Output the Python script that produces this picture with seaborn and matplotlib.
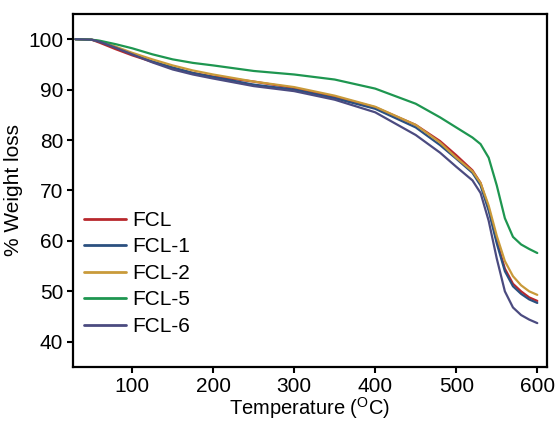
import pandas as pd
import seaborn as sns
import matplotlib.pyplot as plt

# temperatures (deg C) shared by all TGA curves
temperature = [30, 50, 60, 80, 100, 125, 150, 175, 200, 250, 300, 350, 400, 450,
               480, 500, 520, 530, 540, 550, 560, 570, 580, 590, 600]

fcl = [100, 99.9, 99.3, 98.0, 96.8, 95.5, 94.3, 93.3, 92.6, 91.6, 90.3, 88.6, 86.5, 83.0,
       79.8, 77.0, 74.0, 71.5, 66.5, 60.0, 54.5, 51.5, 50.0, 48.8, 48.1]
fcl_1 = [100, 99.9, 99.5, 98.3, 97.0, 95.6, 94.4, 93.3, 92.5, 91.0, 90.0, 88.3, 86.2, 82.5,
         79.0, 76.3, 73.5, 71.0, 66.0, 59.5, 54.0, 51.0, 49.5, 48.4, 47.7]
fcl_2 = [100, 99.9, 99.6, 98.5, 97.3, 96.0, 94.8, 93.8, 93.0, 91.6, 90.5, 88.8, 86.6, 83.0,
         79.5, 76.5, 73.8, 71.5, 67.0, 61.0, 56.0, 53.0, 51.2, 50.0, 49.3]
fcl_5 = [100, 99.9, 99.7, 99.0, 98.2, 97.0, 96.0, 95.3, 94.8, 93.7, 93.0, 92.0, 90.2, 87.2,
         84.5, 82.5, 80.5, 79.2, 76.5, 71.0, 64.5, 60.8, 59.3, 58.4, 57.6]
fcl_6 = [100, 99.9, 99.5, 98.3, 97.0, 95.4, 94.0, 93.0, 92.2, 90.7, 89.7, 88.0, 85.5, 81.0,
         77.5, 74.7, 72.0, 69.5, 64.0, 56.5, 50.0, 46.8, 45.3, 44.4, 43.7]

samples = ["FCL", "FCL-1", "FCL-2", "FCL-5", "FCL-6"]
colors = ["#b8282d", "#2b5080", "#c99a3a", "#1e9650", "#4b4b80"]

rows = []
for name, vals in zip(samples, [fcl, fcl_1, fcl_2, fcl_5, fcl_6]):
    for t, w in zip(temperature, vals):
        rows.append({"Temperature": t, "Weight": w, "Sample": name})
df = pd.DataFrame(rows)

sns.set_theme(style="ticks")
plt.rcParams['font.family'] = ['Liberation Sans', 'DejaVu Sans']
plt.rcParams['mathtext.fontset'] = 'custom'
plt.rcParams['mathtext.rm'] = 'Liberation Sans'
plt.rcParams['text.color'] = 'black'
plt.rcParams['axes.labelcolor'] = 'black'
plt.rcParams['xtick.color'] = 'black'
plt.rcParams['ytick.color'] = 'black'

fig = plt.figure(figsize=(5.58, 4.21), dpi=100)
ax = fig.add_axes([0.1308, 0.1283, 0.8495, 0.8385])

sns.lineplot(data=df, x="Temperature", y="Weight", hue="Sample",
             palette=dict(zip(samples, colors)), linewidth=1.6, ax=ax)

ax.set_xlim(27, 612)
ax.set_ylim(35, 105)
ax.set_xticks([100, 200, 300, 400, 500, 600])
ax.set_yticks([40, 50, 60, 70, 80, 90, 100])
ax.tick_params(axis='both', labelsize=15, width=1.5, length=4.5, direction='out', pad=2.5)
for s in ax.spines.values():
    s.set_linewidth(1.6)
    s.set_color('black')

ax.set_xlabel(r'Temperature ($^{\mathregular{O}}$C)', fontsize=14.5, labelpad=-0.5)
ax.set_ylabel('% Weight loss', fontsize=15, labelpad=4)

leg = ax.legend(loc='upper left', bbox_to_anchor=(0.023, 0.442), frameon=False,
                fontsize=15, handlelength=2.0, handletextpad=0.3,
                labelspacing=0.36, borderpad=0, borderaxespad=0)
for line in leg.get_lines():
    line.set_linewidth(2)

fig.savefig("out.png", dpi=100)
